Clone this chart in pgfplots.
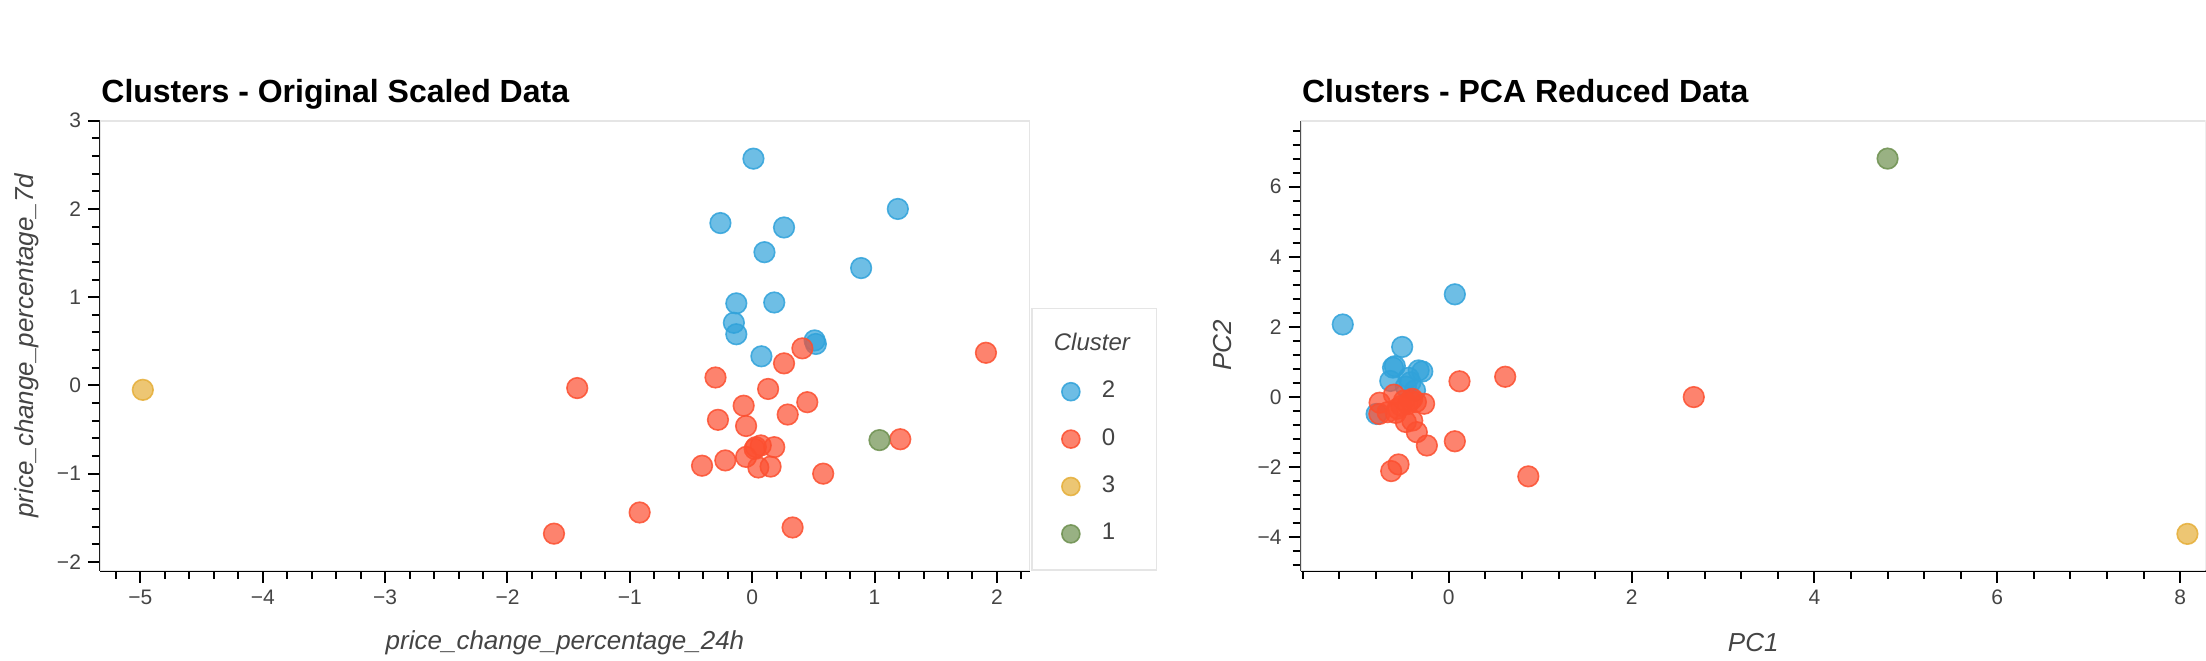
\documentclass[border=0pt]{standalone}
\usepackage{fontspec}
\setmainfont{Liberation Sans}
\usepackage{pgfplots}
\pgfplotsset{compat=1.18}
\definecolor{c2}{HTML}{30A2DA}
\definecolor{c0}{HTML}{FC4F30}
\definecolor{c3}{HTML}{E5AE38}
\definecolor{c1}{HTML}{6D904F}
\definecolor{txt}{HTML}{444444}
\definecolor{outl}{HTML}{E5E5E5}
\pgfplotsset{
  bk/.style={
    scale only axis, height=225pt,
    axis x line*=bottom, axis y line*=left,
    axis line style={line width=1pt, black, -},
    tick align=outside,
    tick style={line width=1pt, black},
    major tick length=6pt, minor tick length=4pt,
    tick label style={font=\fontsize{10.5}{12}\selectfont, text=txt},
    every axis x label/.style={at={(axis description cs:0.5,0)}, anchor=center, yshift=-36pt, font=\itshape\fontsize{13}{15}\selectfont, text=txt},
    every axis title/.style={at={(axis description cs:0,1)}, anchor=base west, xshift=0.5pt, yshift=9pt, inner sep=0pt, font=\bfseries\fontsize{16}{19}\selectfont},
  },
  mk/.style={only marks, mark=*, mark size=5.15pt,
    mark options={fill=#1, fill opacity=0.7, draw=#1, draw opacity=0.85, line width=0.8pt}},
}
\begin{document}
\begin{tikzpicture}
\useasboundingbox (0,0) rectangle (1103pt,330pt);
% ---------------- left axis ----------------
\begin{axis}[bk,
  at={(50pt,44.65pt)}, anchor=south west, width=465pt,
  xmin=-5.33, xmax=2.27, ymin=-2.1, ymax=3.0,
  xtick={-5,-4,-3,-2,-1,0,1,2},
  xticklabels={−5,−4,−3,−2,−1,0,1,2},
  minor xtick={-5.2,-5.0,...,2.21},
  ytick={-2,-1,0,1,2,3},
  yticklabels={−2,−1,0,1,2,3},
  minor ytick={-2.0,-1.8,...,3.01},
  title={Clusters - Original Scaled Data},
  xlabel={price\_change\_percentage\_24h},
  ylabel={price\_change\_percentage\_7d},
  every axis y label/.style={at={(axis description cs:-0.0785,0.5)}, rotate=90, anchor=center, font=\itshape\fontsize{13}{15}\selectfont, text=txt},
  legend style={at={(axis description cs:1,0)}, anchor=south west, xshift=0.5pt,
    draw=outl, fill=white, line width=0.8pt, inner xsep=11pt, inner ysep=10pt,
    row sep=7.7pt, column sep=9pt, font=\fontsize{12}{14}\selectfont, text=txt,
    nodes={inner sep=2pt, text height=9pt, text depth=3pt}},
  legend cell align=left,
  legend image post style={mark size=4.5pt},
]
\draw[outl, line width=0.8pt] (rel axis cs:0,0) rectangle (rel axis cs:1,1);
\addlegendimage{empty legend}
\addlegendentry{\hspace{-24pt}\textit{Cluster}}
\addplot[mk=c2] coordinates {
(0.01,2.57) (1.19,2.00) (-0.26,1.84) (0.26,1.79) (0.10,1.51) (0.89,1.33)
(-0.13,0.93) (0.18,0.94) (-0.15,0.71) (-0.13,0.58) (0.51,0.51) (0.52,0.47)
(0.075,0.33)
};
\addlegendentry{2}
\addplot[mk=c0] coordinates {
(0.41,0.42) (0.26,0.25) (1.91,0.37) (-1.43,-0.03) (-0.30,0.09) (0.13,-0.04)
(-0.07,-0.23) (0.45,-0.19) (-0.28,-0.39) (0.29,-0.33) (-0.05,-0.46)
(0.03,-0.70) (0.07,-0.68) (0.18,-0.70) (0.02,-0.72) (-0.05,-0.81)
(0.05,-0.93) (0.15,-0.92) (-0.41,-0.91) (-0.22,-0.85) (1.21,-0.61)
(0.58,-1.00) (-0.92,-1.44) (0.33,-1.61) (-1.62,-1.68)
};
\addlegendentry{0}
\addplot[mk=c3] coordinates {(-4.98,-0.05)};
\addlegendentry{3}
\addplot[mk=c1] coordinates {(1.04,-0.62)};
\addlegendentry{1}
\end{axis}
% ---------------- right axis ----------------
\begin{axis}[bk,
  at={(650.35pt,44.65pt)}, anchor=south west, width=452.5pt,
  xmin=-1.62, xmax=8.28, ymin=-4.95, ymax=7.88,
  xtick={0,2,4,6,8},
  xticklabels={0,2,4,6,8},
  minor xtick={-1.6,-1.2,...,8.01},
  ytick={-4,-2,0,2,4,6},
  yticklabels={−4,−2,0,2,4,6},
  minor ytick={-4.8,-4.4,...,7.61},
  title={Clusters - PCA Reduced Data},
  xlabel={PC1},
  ylabel={PC2},
  every axis y label/.style={at={(axis description cs:-0.0862,0.5)}, rotate=90, anchor=center, font=\itshape\fontsize{13}{15}\selectfont, text=txt},
]
\draw[outl, line width=0.8pt] (rel axis cs:0,0) rectangle (rel axis cs:1,1);
\addplot[mk=c2] coordinates {
(-1.16,2.07) (0.066,2.93) (-0.51,1.43) (-0.59,0.88) (-0.61,0.84) (-0.33,0.76)
(-0.29,0.73) (-0.64,0.46) (-0.44,0.55) (-0.42,0.42) (-0.37,0.19) (-0.79,-0.48)
(-0.47,0.30)
};
\addplot[mk=c0] coordinates {
(0.117,0.45) (0.617,0.58) (2.68,0.00) (-0.757,-0.16) (-0.60,0.07) (-0.76,-0.48)
(-0.67,-0.43) (-0.56,-0.33) (-0.49,-0.10) (-0.42,-0.10) (-0.36,-0.14)
(-0.27,-0.19) (-0.47,-0.71) (-0.40,-0.67) (-0.35,-1.00) (-0.24,-1.38)
(0.066,-1.26) (-0.55,-1.92) (-0.63,-2.11) (0.87,-2.26) (-0.52,-0.25)
(-0.45,-0.20) (-0.40,-0.05) (-0.58,-0.45)
};
\addplot[mk=c3] coordinates {(8.08,-3.90)};
\addplot[mk=c1] coordinates {(4.80,6.80)};
\end{axis}
\end{tikzpicture}
\end{document}
